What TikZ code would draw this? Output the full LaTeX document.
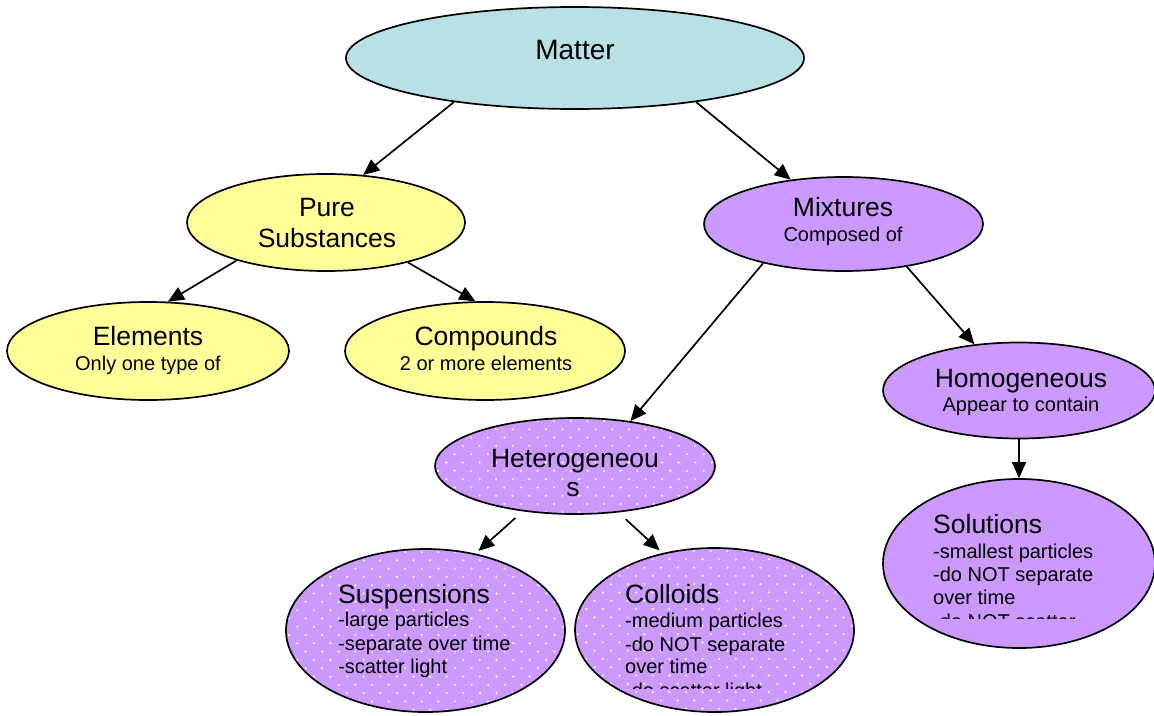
\documentclass[tikz,border=0pt]{standalone}
\usepackage{fontspec}
\setmainfont{Liberation Sans}
\usetikzlibrary{arrows.meta,shapes.geometric}
\definecolor{mattercol}{RGB}{185,224,228}
\definecolor{purecol}{RGB}{255,255,153}
\definecolor{mixcol}{RGB}{204,153,255}
\definecolor{dotcol}{RGB}{250,245,255}
\begin{document}
\begin{tikzpicture}[x=1pt,y=-1pt,
  bubble/.style={ellipse, draw=black, line width=1.7pt, inner sep=0pt},
  dotfill/.style={path picture={
    \foreach \j in {0,...,22}{
      \foreach \i in {0,...,17}{
        \fill[dotcol] ([shift={({\i*16.6+mod(\j,2)*8.3+3},{\j*8.3+3})}]path picture bounding box.north west) circle[radius=1.25pt];
      }}}},
  head/.style={font=\fontsize{26.5}{30}\selectfont, inner sep=0pt},
  sub/.style={font=\fontsize{20}{23.5}\selectfont, inner sep=0pt},
  arr/.style={-{Triangle[length=16pt,width=14pt]}, line width=1.7pt},
]
\useasboundingbox (0,0) rectangle (1154,715);

% ellipses
\node[bubble, fill=mattercol, minimum width=458, minimum height=102] (matter) at (575,58) {};
\node[bubble, fill=purecol, minimum width=278, minimum height=97] (pure) at (326,222.5) {};
\node[bubble, fill=mixcol, minimum width=279, minimum height=94] (mix) at (843.5,224) {};
\node[bubble, fill=purecol, minimum width=282, minimum height=98] (elem) at (148,351) {};
\node[bubble, fill=purecol, minimum width=280, minimum height=98] (comp) at (485,351) {};
\node[bubble, fill=mixcol, minimum width=272, minimum height=96] (homog) at (1019,390.5) {};
\node[bubble, fill=mixcol, dotfill, minimum width=280, minimum height=96] (hetero) at (575,466) {};
\node[bubble, fill=mixcol, dotfill, minimum width=279, minimum height=163] (susp) at (425.5,630.5) {};
\node[bubble, fill=mixcol, dotfill, minimum width=279, minimum height=164] (coll) at (714.5,630) {};
\node[bubble, fill=mixcol, minimum width=272, minimum height=169] (sol) at (1019,563.5) {};

% texts
\node[font=\fontsize{28}{32}\selectfont, inner sep=0pt, anchor=base] (mattertxt) at (575,59) {Matter};
\node[head, anchor=base] (puretxta) at (327,216) {Pure};
\node[head, anchor=base] (puretxtb) at (327,247) {Substances};
\node[head, anchor=base] (mixtxt) at (843,216) {Mixtures};
\node[sub, anchor=base] (mixsub) at (843,241) {Composed of};
\node[head, anchor=base] (elemtxt) at (148,345) {Elements};
\node[sub, anchor=base] (elemsub) at (148,370.5) {Only one type of};
\node[head, anchor=base] (comptxt) at (486,345) {Compounds};
\node[sub, anchor=base] (compsub) at (486,370.5) {2 or more elements};
\node[head, anchor=base] (homogtxt) at (1021,387) {Homogeneous};
\node[sub, anchor=base] (homogsub) at (1021,411) {Appear to contain};
\node[head, anchor=base] (heterotxta) at (575,467) {Heterogeneou};
\node[head, anchor=base] (heterotxtb) at (573,496) {s};

\node[head, anchor=base west] (susptxt) at (338,603) {Suspensions};
\node[sub, anchor=base west] (suspa) at (338,626) {-large particles};
\node[sub, anchor=base west] (suspb) at (338,650) {-separate over time};
\node[sub, anchor=base west] (suspc) at (338,673) {-scatter light};

\node[head, anchor=base west] (colltxt) at (625,603) {Colloids};
\node[sub, anchor=base west] (colla) at (625,627) {-medium particles};
\node[sub, anchor=base west] (collb) at (625,651) {-do NOT separate};
\node[sub, anchor=base west] (collc) at (625,673) {over time};
\begin{scope}
  \clip (600,676) rectangle (860,688);
  \node[sub, anchor=base west] (colld) at (625,697) {-do scatter light};
\end{scope}

\node[head, anchor=base west] (soltxt) at (933,533) {Solutions};
\node[sub, anchor=base west] (sola) at (933,558) {-smallest particles};
\node[sub, anchor=base west] (solb) at (933,581) {-do NOT separate};
\node[sub, anchor=base west] (solc) at (933,604) {over time};
\begin{scope}
  \clip (900,607) rectangle (1150,618);
  \node[sub, anchor=base west] (sold) at (933,628) {-do NOT scatter};
\end{scope}

% connectors
\draw[arr] (matter.200) -- (pure.52);
\draw[arr] (matter.340) -- (mix.140);
\draw[arr] (pure.203) -- (elem.68);
\draw[arr] (pure.334) -- (comp.101);
\draw[arr] (mix.206) -- (hetero.39);
\draw[arr] (mix.326) -- (homog.134);
\draw[arr] (homog.south) -- (sol.north);
\draw[arr, shorten <=10pt, shorten >=4pt] (hetero.221) -- (susp.57);
\draw[arr, shorten <=10pt, shorten >=4pt] (hetero.313) -- (coll.124);
\end{tikzpicture}
\end{document}
